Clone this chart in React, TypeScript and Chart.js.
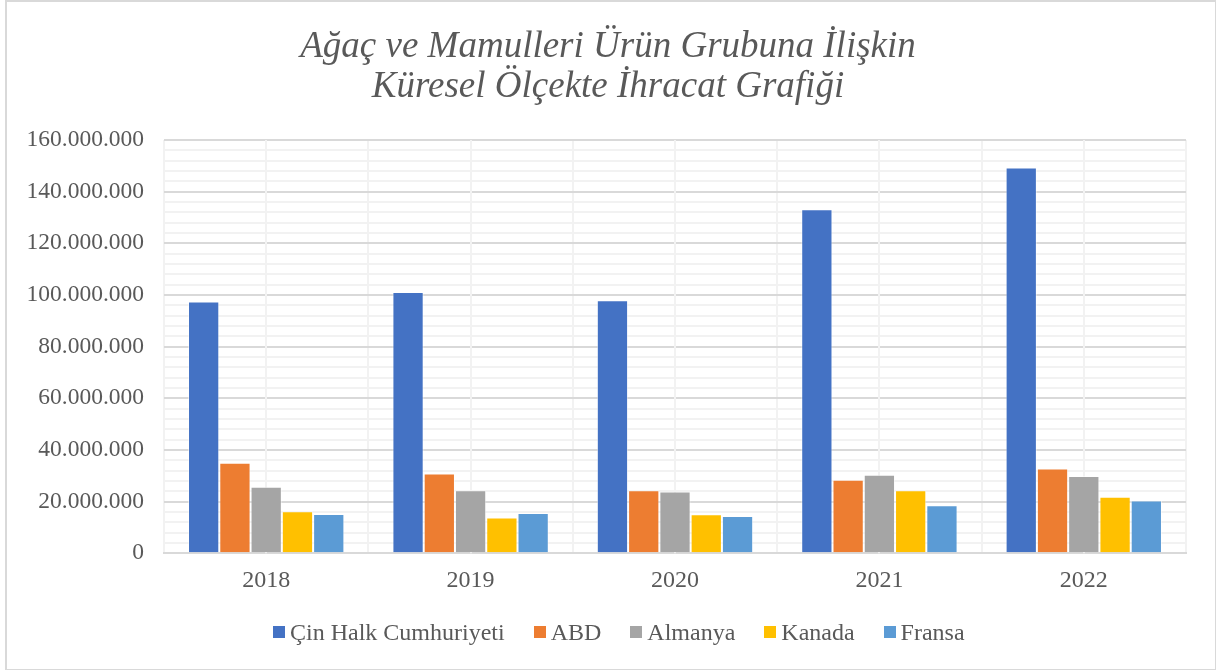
import React, { useEffect, useRef } from "react";
import { Chart, registerables } from "chart.js";

Chart.register(...registerables);

const years = ["2018", "2019", "2020", "2021", "2022"];
const seriesNames = ["Çin Halk Cumhuriyeti", "ABD", "Almanya", "Kanada", "Fransa"];
const cin = [97400000, 101100000, 97900000, 133200000, 149300000];
const abd = [35000000, 30900000, 24400000, 28400000, 32800000];
const almanya = [25700000, 24400000, 23900000, 30400000, 29900000];
const kanada = [16200000, 13800000, 15100000, 24400000, 21900000];
const fransa = [15200000, 15600000, 14400000, 18600000, 20400000];
const colors = ["#4472C4", "#ED7D31", "#A5A5A5", "#FFC000", "#5B9BD5"];
const titleLines = ["Ağaç ve Mamulleri Ürün Grubuna İlişkin", "Küresel Ölçekte İhracat Grafiği"];

const SERIF = "'Liberation Serif', 'Times New Roman', serif";

const fmt = (v: number) => {
  if (v === 0) return "0";
  return Math.round(v).toString().replace(/\B(?=(\d{3})+(?!\d))/g, ".");
};

const centerLines = {
  id: "centerLines",
  beforeDatasetsDraw(chart: any) {
    const x = chart.scales.x;
    const area = chart.chartArea;
    const ctx = chart.ctx;
    ctx.save();
    ctx.strokeStyle = "#F2F2F2";
    ctx.lineWidth = 2;
    for (let i = 0; i < years.length; i++) {
      const px = Math.round(x.getPixelForValue(i));
      ctx.beginPath();
      ctx.moveTo(px, area.top);
      ctx.lineTo(px, area.bottom);
      ctx.stroke();
    }
    ctx.restore();
  },
};

export default function App() {
  const ref = useRef<HTMLCanvasElement>(null);
  useEffect(() => {
    if (!ref.current) return;
    const all = [cin, abd, almanya, kanada, fransa];
    const chart = new Chart(ref.current, {
      type: "bar",
      data: {
        labels: years,
        datasets: all.map((d, i) => ({
          label: seriesNames[i],
          data: d,
          backgroundColor: colors[i],
          borderColor: "rgba(255,255,255,0.5)",
          borderWidth: 1,
          categoryPercentage: 0.765,
          barPercentage: 1.0,
          yAxisID: "y",
        })),
      },
      plugins: [centerLines],
      options: {
        responsive: false,
        animation: false,
        layout: { padding: { left: 0, right: 0, top: 0, bottom: 62 } },
        plugins: {
          title: {
            display: true,
            text: titleLines,
            color: "#595959",
            font: { family: SERIF, size: 37, style: "italic", weight: "normal", lineHeight: 1.08 },
            padding: { top: 27, bottom: 33 },
          },
          legend: { display: false },
          tooltip: { enabled: false },
        },
        scales: {
          x: {
            grid: { color: "#F2F2F2", lineWidth: 2, offset: true, drawTicks: false },
            border: { display: true, color: "#D9D9D9", width: 2 },
            ticks: {
              color: "#595959",
              font: { family: SERIF, size: 24 },
              padding: 13,
            },
          },
          y: {
            min: 0,
            max: 160000000,
            afterFit(scale: any) {
              scale.width = 164;
            },
            grid: {
              drawTicks: false,
              lineWidth: 2,
              color: (c: any) => (c.tick && c.tick.value % 20000000 === 0 ? "#D9D9D9" : "#F2F2F2"),
            },
            border: { display: false },
            ticks: {
              stepSize: 4000000,
              autoSkip: false,
              color: "#595959",
              font: { family: SERIF, size: 23.5 },
              padding: 20,
              callback: (v: any) => (Number(v) % 20000000 === 0 ? fmt(Number(v)) : ""),
            },
          },
          yRight: {
            position: "right",
            min: 0,
            max: 160000000,
            afterFit(scale: any) {
              scale.width = 30;
            },
            grid: { display: false, drawTicks: false },
            border: { display: false },
            ticks: { display: false },
          },
        },
      },
    });
    return () => chart.destroy();
  }, []);
  return (
    <div style={{ position: "fixed", left: 0, top: 0, width: 1216, height: 670, background: "#fff" }}>
      <canvas ref={ref} width={1216} height={670} style={{ position: "absolute", left: 0, top: 0 }} />
      <div
        style={{
          position: "absolute",
          left: 273,
          top: 618,
          display: "flex",
          alignItems: "center",
          whiteSpace: "nowrap",
          fontFamily: SERIF,
          fontSize: 24,
          lineHeight: "28px",
          color: "#595959",
        }}
      >
        {seriesNames.map((n, i) => (
          <div key={n} style={{ display: "flex", alignItems: "center", marginRight: 29 }}>
            <span style={{ display: "inline-block", width: 12, height: 12, background: colors[i], marginRight: 5 }} />
            <span>{n}</span>
          </div>
        ))}
      </div>
      <div
        style={{
          position: "absolute",
          left: 5,
          top: 0,
          width: 1208,
          height: 667,
          border: "2px solid #D9D9D9",
          pointerEvents: "none",
        }}
      />
    </div>
  );
}
